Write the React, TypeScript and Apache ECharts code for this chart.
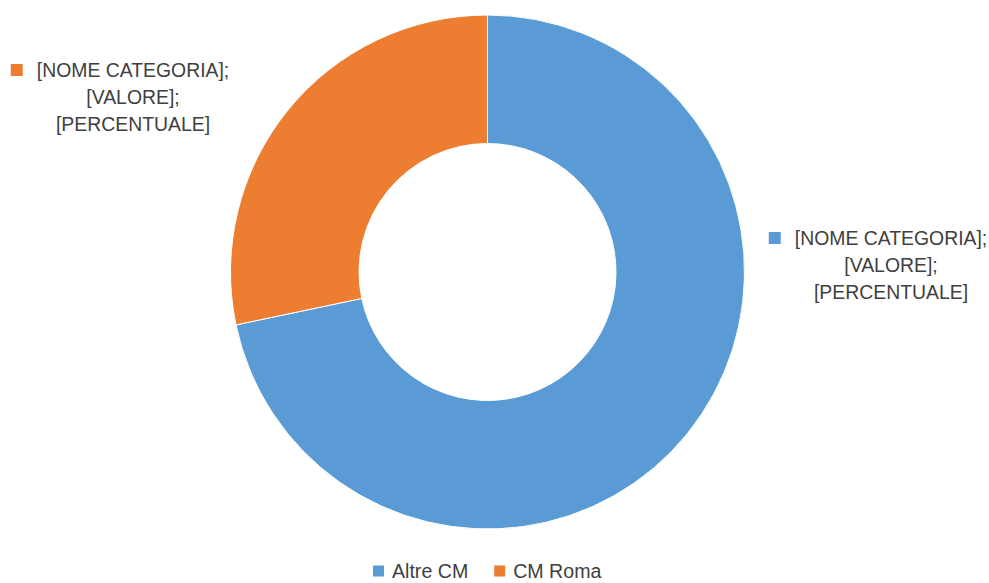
import React, { useEffect, useRef } from "react";
import * as echarts from "echarts";

const categories = ["Altre CM", "CM Roma"];
const values = [71.7, 28.3];
const colors = ["#5B9BD5", "#ED7D31"];
const labelLines = ["[NOME CATEGORIA];", "[VALORE];", "[PERCENTUALE]"];

const FONT = "'Liberation Sans', Arial, sans-serif";
const labelPos = [
  { x: 891, y: 265 },
  { x: 133, y: 97 },
];

export default function App() {
  const ref = useRef<HTMLDivElement>(null);
  useEffect(() => {
    if (!ref.current) return;
    const chart = echarts.init(ref.current, undefined, { renderer: "svg" });
    const data = categories.map((name, i) => ({
      name,
      value: values[i],
      itemStyle: { color: colors[i] },
      label: {
        rich: {
          sq: { width: 12, height: 12, backgroundColor: colors[i] },
          gap: { width: 14 },
          pad: { width: 26 },
        },
      },
    }));
    chart.setOption({
      animation: false,
      backgroundColor: "#ffffff",
      textStyle: { fontFamily: FONT },
      legend: {
        data: categories,
        left: 366,
        top: 556,
        itemWidth: 13,
        itemHeight: 13,
        itemGap: 24,
        icon: "rect",
        textStyle: { fontFamily: FONT, fontSize: 19.6, lineHeight: 20, color: "#404040", padding: [0, 0, 0, 2] },
      },
      series: [
        {
          type: "pie",
          center: [487.5, 272],
          radius: [128.5, 257],
          startAngle: 90,
          clockwise: true,
          data,
          itemStyle: { borderColor: "#ffffff", borderWidth: 1 },
          label: {
            show: true,
            position: "outside",
            overflow: "none",
            formatter: () =>
              "{sq|}{gap| }" + labelLines[0] + "{pad| }\n" + labelLines.slice(1).join("\n"),
            fontFamily: FONT,
            fontSize: 19.4,
            lineHeight: 27,
            color: "#404040",
            align: "center",
          },
          labelLine: { show: false },
          labelLayout: (params: any) => ({
            x: labelPos[params.dataIndex].x,
            y: labelPos[params.dataIndex].y,
            align: "center",
            verticalAlign: "middle",
          }),
          emphasis: { disabled: true },
        },
      ],
    });
    return () => chart.dispose();
  }, []);
  return (
    <div
      ref={ref}
      style={{ position: "fixed", left: 0, top: 0, width: 989, height: 583 }}
    />
  );
}
